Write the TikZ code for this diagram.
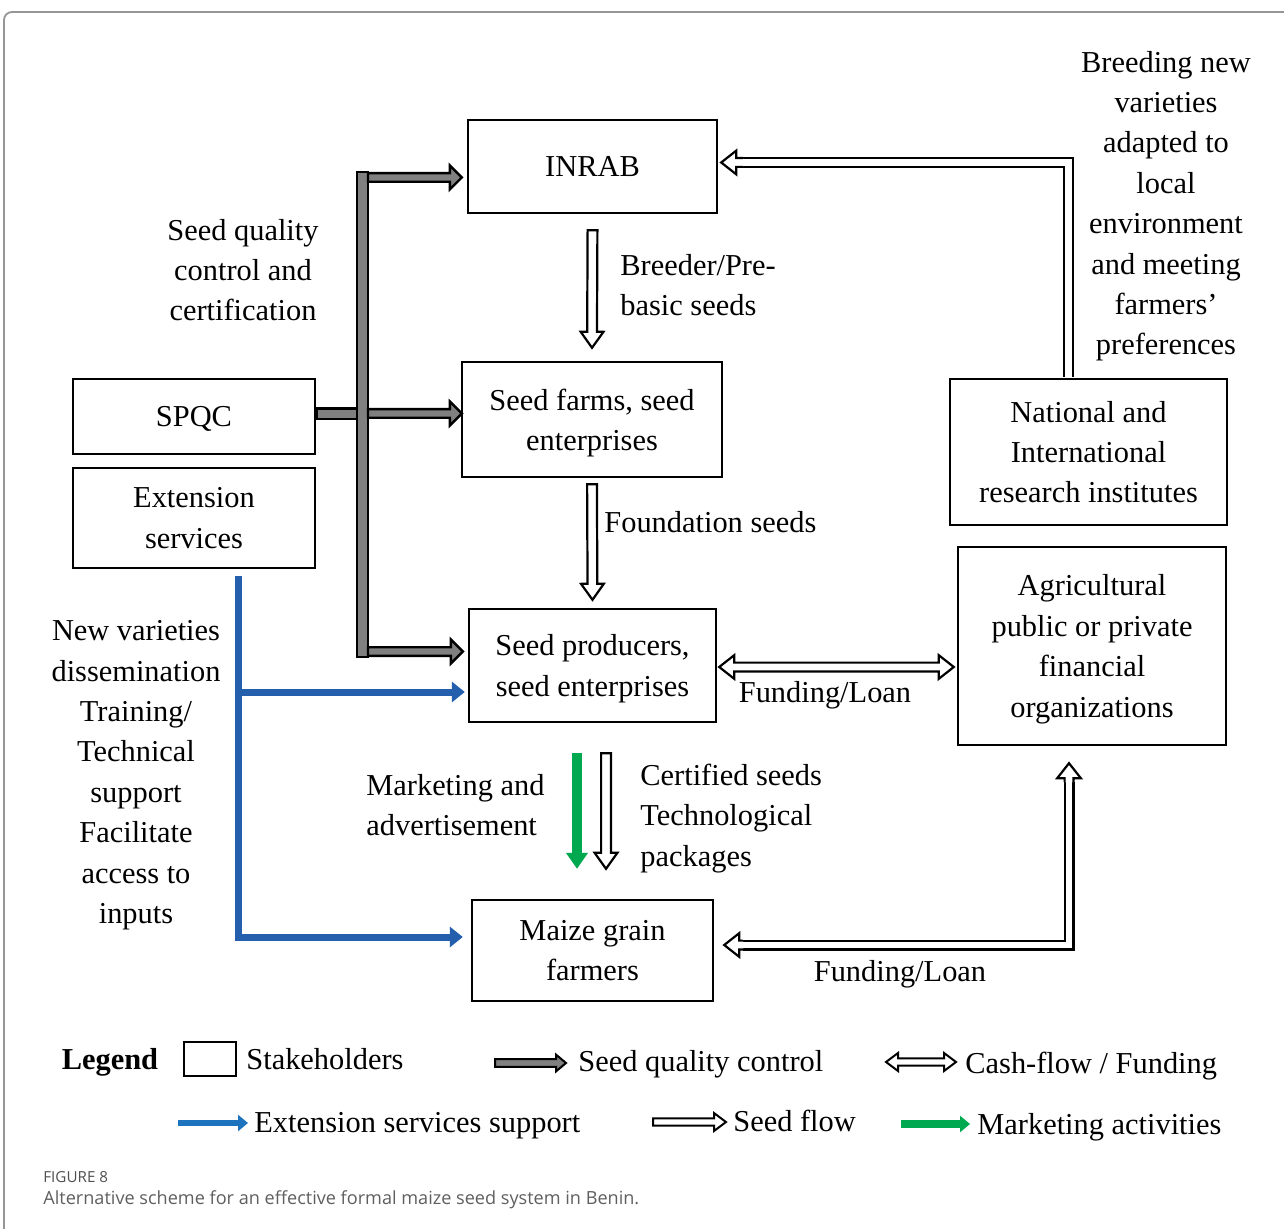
\documentclass[tikz,border=0pt]{standalone}
\usepackage{fontspec}
\setmainfont{Liberation Serif}
\newfontfamily\capfont{Open Sans}
\usetikzlibrary{calc,arrows.meta}
\definecolor{grayfillc}{RGB}{128,128,128}
\definecolor{extblue}{RGB}{35,95,172}
\definecolor{legblue}{RGB}{30,115,190}
\definecolor{mkgreen}{RGB}{0,168,80}
\definecolor{capgray}{RGB}{95,95,95}
\definecolor{capdark}{RGB}{80,80,80}
\definecolor{framegray}{RGB}{150,150,150}
\tikzset{
  fa w/.store in=\faw, fa W/.store in=\faW, fa h/.store in=\fah,
  fa w=2.4pt, fa W=6pt, fa h=8pt,
  fat closed/.style={to path={
    ($(\tikztotarget)!\fah!(\tikztostart)$) coordinate (faC)
    ($(\tikztostart)!\faw!90:(\tikztotarget)$)
    -- ($(faC)!\faw!90:(\tikztotarget)$)
    -- ($(faC)!\faW!90:(\tikztotarget)$)
    -- (\tikztotarget)
    -- ($(faC)!\faW!-90:(\tikztotarget)$)
    -- ($(faC)!\faw!-90:(\tikztotarget)$)
    -- ($(\tikztostart)!\faw!-90:(\tikztotarget)$) -- cycle}},
  fat open/.style={to path={
    ($(\tikztotarget)!\fah!(\tikztostart)$) coordinate (faC)
    ($(\tikztostart)!\faw!90:(\tikztotarget)$)
    -- ($(faC)!\faw!90:(\tikztotarget)$)
    -- ($(faC)!\faW!90:(\tikztotarget)$)
    -- (\tikztotarget)
    -- ($(faC)!\faW!-90:(\tikztotarget)$)
    -- ($(faC)!\faw!-90:(\tikztotarget)$)
    -- ($(\tikztostart)!\faw!-90:(\tikztotarget)$)}},
  fat double/.style={to path={
    ($(\tikztostart)!\fah!(\tikztotarget)$) coordinate (faA)
    ($(\tikztotarget)!\fah!(\tikztostart)$) coordinate (faC)
    (\tikztostart)
    -- ($(faA)!\faW!90:(\tikztotarget)$)
    -- ($(faA)!\faw!90:(\tikztotarget)$)
    -- ($(faC)!\faw!90:(\tikztotarget)$)
    -- ($(faC)!\faW!90:(\tikztotarget)$)
    -- (\tikztotarget)
    -- ($(faC)!\faW!-90:(\tikztotarget)$)
    -- ($(faC)!\faw!-90:(\tikztotarget)$)
    -- ($(faA)!\faw!-90:(\tikztotarget)$)
    -- ($(faA)!\faW!-90:(\tikztotarget)$) -- cycle}},
  txt/.style={font=\fontsize{15.2}{20.2}\selectfont, inner sep=0pt, align=center, text depth=0pt},
  box/.style={draw, line width=1.2pt, txt},
  grayarr/.style={fat closed, draw=black, fill=grayfillc, line width=1.2pt, line join=miter, fa w=2.15pt, fa W=6pt, fa h=6pt},
  grayrect/.style={draw=black, fill=grayfillc, line width=1.2pt},
  hollow/.style={fat closed, draw=black, fill=white, line width=1.1pt, line join=miter, fa w=2.45pt, fa W=5.7pt, fa h=8pt},
  hollowopen/.style={fat open, draw=black, fill=white, line width=1.1pt, line join=miter, fa w=2.2pt, fa W=5.9pt, fa h=7.5pt},
  hollowdbl/.style={fat double, draw=black, fill=white, line width=1.1pt, line join=miter, fa w=2.2pt, fa W=5.9pt, fa h=7.5pt},
  dbl/.style={draw=black, line width=1.1pt, double=white, double distance=3.3pt, line join=miter},
  bluearr/.style={draw=extblue, line width=3.5pt, line join=miter, -{Triangle[length=6.5pt,width=10pt]}},
  greenarr/.style={draw=mkgreen, line width=5pt, -{Triangle[length=8pt,width=10.5pt]}},
}
\begin{document}
\begin{tikzpicture}[x=0.5pt,y=-0.5pt]
\useasboundingbox (0,0) rectangle (1284,1229);
\fill[white] (0,0) rectangle (1284,1229);
\draw[framegray, line width=0.9pt, rounded corners=4pt] (4,1229) -- (4,12) -- (1284,12);

% stakeholders
\node[box, minimum width=124.5pt, minimum height=46.5pt] (inrab) at (592.5,166.5) {INRAB};
\node[box, minimum width=130pt, minimum height=57.5pt] (farms) at (592,419.5) {Seed farms, seed\\enterprises};
\node[box, minimum width=123.5pt, minimum height=56.5pt] (prod) at (592.5,665.5) {Seed producers,\\seed enterprises};
\node[box, minimum width=120.5pt, minimum height=50.5pt] (maize) at (592.5,950.5) {Maize grain\\farmers};
\node[box, minimum width=121pt, minimum height=37.5pt] (spqc) at (194,416.5) {SPQC};
\node[box, minimum width=121pt, minimum height=50pt] (ext) at (194,518) {Extension\\services};
\node[box, minimum width=138.5pt, minimum height=73pt] (natl) at (1088.5,452) {National and\\International\\research institutes};
\node[box, minimum width=134pt, minimum height=99pt] (agri) at (1092,646) {Agricultural\\public or private\\financial\\organizations};

% labels
\node[txt] (sqc) at (243,270) {Seed quality\\control and\\certification};
\node[txt, align=left, anchor=west] (bps) at (620,285) {Breeder/Pre-\\basic seeds};
\node[txt, anchor=west] (fs) at (604,522) {Foundation seeds};
\node[txt] (bnv) at (1166,203) {Breeding new\\varieties\\adapted to\\local\\environment\\and meeting\\farmers’\\preferences};
\node[txt] (nvd) at (136,772) {New varieties\\dissemination\\Training/\\Technical\\support\\Facilitate\\access to\\inputs};
\node[txt, align=left, anchor=west] (mkt) at (366,805) {Marketing and\\advertisement};
\node[txt, align=left, anchor=west] (cert) at (640,815) {Certified seeds\\Technological\\packages};
\node[txt] (fl1) at (825,692) {Funding/Loan};
\node[txt] (fl2) at (900,971) {Funding/Loan};

% gray quality control arrows
\draw[grayrect] ($(spqc.east)+(1,-8)$) rectangle ($(spqc.east)+(42,2.5)$);
\coordinate (gb1) at (357,172);
\coordinate (gb2) at (368,657);
\draw[grayrect] (gb1) rectangle (gb2);
\coordinate (g1s) at (368,177.5);
\coordinate (g1e) at ($(inrab.west |- g1s)+(-5,0)$);
\draw[grayarr] (g1s) to (g1e);
\coordinate (g2s) at (368,413.5);
\coordinate (g2e) at ($(farms.west |- g2s)+(1,0)$);
\draw[grayarr] (g2s) to (g2e);
\coordinate (g3s) at (368,651.5);
\coordinate (g3e) at ($(prod.west |- g3s)+(-5,0)$);
\draw[grayarr] (g3s) to (g3e);

% blue extension arrows
\coordinate (bv0) at ($(ext.south)+(44,7)$);
\coordinate (bh1) at (234.5,692);
\coordinate (bh1e) at ($(prod.west |- bh1)+(-3,0)$);
\draw[bluearr] (bh1) -- (bh1e);
\coordinate (bh2e) at ($(maize.west)+(-8,-13.5)$);
\draw[bluearr] (bv0) |- (bh2e);

% seed flow arrows
\coordinate (s1s) at ($(inrab.south)+(0,16)$);
\coordinate (s1e) at ($(farms.north)+(0,-13)$);
\draw[hollow] (s1s) to (s1e);
\coordinate (s2s) at ($(farms.south)+(0,6)$);
\coordinate (s2e) at ($(prod.north)+(0,-8)$);
\draw[hollow] (s2s) to (s2e);
\coordinate (s3s) at ($(prod.south)+(13.5,30)$);
\coordinate (s3e) at ($(maize.north)+(13.5,-30)$);
\draw[hollow] (s3s) to (s3e);

% marketing arrow
\coordinate (ms) at ($(prod.south)+(-15.5,30)$);
\coordinate (me) at ($(maize.north)+(-15.5,-30)$);
\draw[greenarr] (ms) -- (me);

% funding between producers and financial organisations
\coordinate (f1s) at ($(prod.east)+(2,1.5)$);
\coordinate (f1e) at ($(agri.west |- prod.east)+(-3,1.5)$);
\draw[hollowdbl] (f1s) to (f1e);

% breeding feedback National -> INRAB
\coordinate (nt) at ($(natl.north)+(-20,-1)$);
\coordinate (itTip) at ($(inrab.east)+(3,-4)$);
\coordinate (it) at ($(itTip)+(22,0)$);
\draw[dbl] (nt) |- (it);
\draw[hollowopen] (it) to (itTip);

% funding between maize farmers and financial organisations
\coordinate (uaTip) at ($(agri.south)+(-23,17)$);
\coordinate (ua) at ($(uaTip)+(0,19)$);
\coordinate (laTip) at ($(maize.east)+(10,-5.5)$);
\coordinate (la) at ($(laTip)+(19,0)$);
\draw[dbl] (ua) |- (la);
\draw[hollowopen] (ua) to (uaTip);
\draw[hollowopen] (la) to (laTip);

% legend
\node[txt, font=\fontsize{15.2}{20}\selectfont\bfseries] (lgd) at (110,1059) {Legend};
\node[draw, line width=1.2pt, minimum width=26pt, minimum height=17pt, inner sep=0pt] (lbox) at (210,1059) {};
\node[txt, anchor=west] (lstk) at (246,1059) {Stakeholders};
\coordinate (lg1) at (495,1063);
\coordinate (lg2) at (566,1063);
\draw[grayarr, line width=1pt, fa w=1.9pt, fa W=4.2pt, fa h=5pt] (lg1) to (lg2);
\node[txt, anchor=west] (lsq) at (578,1061) {Seed quality control};
\coordinate (ld1) at (886,1062);
\coordinate (ld2) at (956,1062);
\draw[hollowdbl, line width=1pt, fa w=1.8pt, fa W=4.5pt, fa h=6pt] (ld1) to (ld2);
\node[txt, anchor=west] (lcf) at (965,1063) {Cash-flow / Funding};
\coordinate (lb1) at (178,1123);
\coordinate (lb2) at (248,1123);
\draw[draw=legblue, line width=2.6pt, -{Triangle[length=5pt,width=8pt]}] (lb1) -- (lb2);
\node[txt, anchor=west] (lext) at (254,1122) {Extension services support};
\coordinate (ls1) at (653,1122);
\coordinate (ls2) at (726,1122);
\draw[hollow, line width=1pt, fa w=1.8pt, fa W=4.5pt, fa h=6pt] (ls1) to (ls2);
\node[txt, anchor=west] (lsf) at (733,1121) {Seed flow};
\coordinate (lm1) at (901,1124);
\coordinate (lm2) at (970,1124);
\draw[draw=mkgreen, line width=4pt, -{Triangle[length=5pt,width=8pt]}] (lm1) -- (lm2);
\node[txt, anchor=west] (lmk) at (977,1124) {Marketing activities};

% caption
\node[anchor=west, inner sep=0pt, font=\capfont\fontsize{7.6}{9}\selectfont, text=capdark] (capa) at (43,1177) {FIGURE 8};
\node[anchor=west, inner sep=0pt, font=\capfont\fontsize{9.05}{11}\selectfont, text=capgray] (capb) at (43,1200) {Alternative scheme for an effective formal maize seed system in Benin.};
\end{tikzpicture}
\end{document}
